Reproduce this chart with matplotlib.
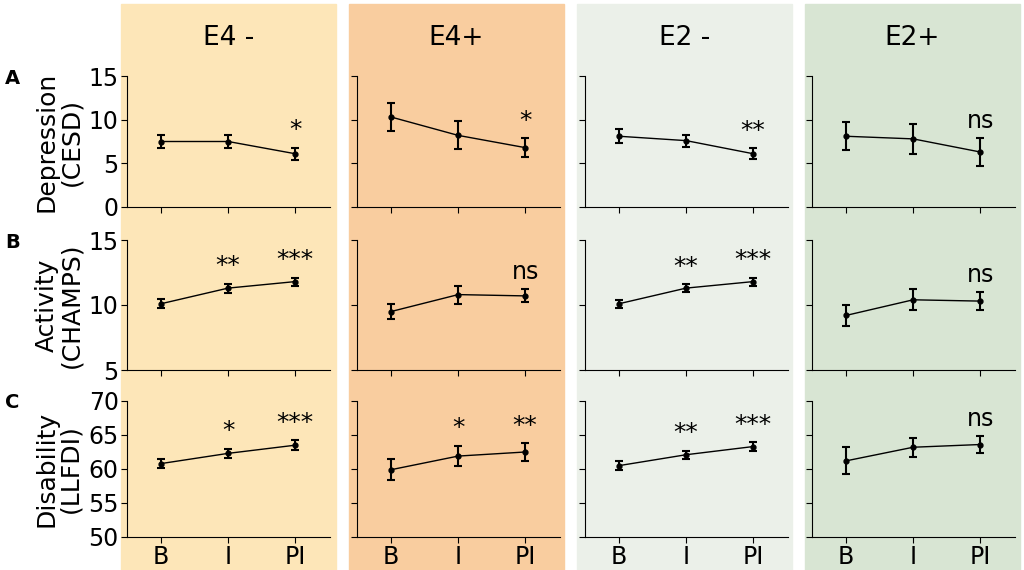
import numpy as np
import matplotlib.pyplot as plt
from matplotlib.patches import Rectangle

groups = ['E4-', 'E4+', 'E2-', 'E2+']
titles = ['E4 -', 'E4+', 'E2 -', 'E2+']
bg_colors = ['#FDE6B8', '#F9CD9F', '#EBF0E9', '#D8E5D3']
times = ['B', 'I', 'PI']

row_labels = ['Depression\n(CESD)', 'Activity\n(CHAMPS)', 'Disability\n(LLFDI)']
row_letters = ['A', 'B', 'C']
row_ylim = [(0, 15), (5, 15), (50, 70)]
row_ticks = [[0, 5, 10, 15], [5, 10, 15], [50, 55, 60, 65, 70]]

# means and errors [row][group][time]
means = [
    [[7.5, 7.5, 6.1], [10.3, 8.2, 6.8], [8.1, 7.6, 6.1], [8.1, 7.8, 6.3]],
    [[10.1, 11.3, 11.8], [9.5, 10.8, 10.7], [10.1, 11.3, 11.8], [9.2, 10.4, 10.3]],
    [[60.8, 62.3, 63.5], [59.9, 61.9, 62.5], [60.5, 62.1, 63.3], [61.2, 63.2, 63.6]],
]
errs = [
    [[0.8, 0.8, 0.7], [1.6, 1.6, 1.1], [0.8, 0.7, 0.6], [1.6, 1.7, 1.6]],
    [[0.35, 0.35, 0.3], [0.6, 0.7, 0.5], [0.3, 0.3, 0.3], [0.8, 0.8, 0.7]],
    [[0.7, 0.7, 0.7], [1.5, 1.5, 1.3], [0.7, 0.6, 0.6], [2.0, 1.4, 1.2]],
]
# significance marks: (time index, text)
sig = [
    [[(2, '*')], [(2, '*')], [(2, '**')], [(2, 'ns')]],
    [[(1, '**'), (2, '***')], [(2, 'ns')], [(1, '**'), (2, '***')], [(2, 'ns')]],
    [[(1, '*'), (2, '***')], [(1, '*'), (2, '**')], [(1, '**'), (2, '***')], [(2, 'ns')]],
]

W, H = 1024, 570
fig = plt.figure(figsize=(W / 100, H / 100), dpi=100)

bg_x = [121, 349, 577, 805]
bg_w = 215
spine_x = [127, 357, 585, 812]
row_top = [76, 240, 401]
row_bot = [207, 370, 537]
ax_w = 203

for g in range(4):
    fig.patches.append(Rectangle((bg_x[g] / W, 0), bg_w / W, 1 - 4 / H,
                                 transform=fig.transFigure, color=bg_colors[g], zorder=-10))
    fig.text((bg_x[g] + bg_w / 2) / W, 1 - 38 / H, titles[g], ha='center', va='center', fontsize=19)

for r in range(3):
    for g in range(4):
        ax = fig.add_axes([spine_x[g] / W, 1 - row_bot[r] / H, ax_w / W, (row_bot[r] - row_top[r]) / H])
        ax.patch.set_alpha(0)
        x = np.arange(3)
        ax.errorbar(x, means[r][g], yerr=errs[r][g], color='black', marker='o', markersize=3.5,
                    capsize=3, linewidth=1, elinewidth=1.5, capthick=1.5)
        ax.set_xlim(-0.51, 2.52)
        ax.set_ylim(*row_ylim[r])
        ax.set_yticks(row_ticks[r])
        ax.spines['top'].set_visible(False)
        ax.spines['right'].set_visible(False)
        ax.tick_params(labelsize=17, length=4, pad=2)
        ax.set_xticks(x)
        if r == 2:
            ax.set_xticklabels(times)
        else:
            ax.set_xticklabels([])
        if g == 0:
            ax.set_ylabel(row_labels[r], fontsize=18, linespacing=1.0, labelpad=4)
        else:
            ax.set_yticklabels([])
        for ti, txt in sig[r][g]:
            top = means[r][g][ti] + errs[r][g][ti]
            off = 0.04 * (row_ylim[r][1] - row_ylim[r][0])
            ax.text(ti, top + off, txt, ha='center', va='bottom', fontsize=18 if txt != 'ns' else 17)
    fig.text(5 / W, 1 - (row_top[r] + 2) / H, row_letters[r], fontsize=14, fontweight='bold', va='center')

fig.patch.set_facecolor('white')
fig.savefig('out.png', dpi=100)
